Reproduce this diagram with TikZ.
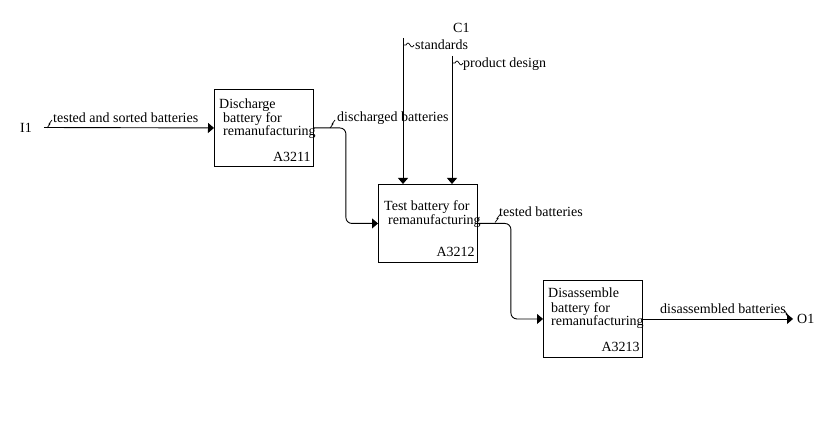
\documentclass[tikz,border=0pt]{standalone}
\usepackage{fontspec}
\setmainfont{Liberation Serif}
\usetikzlibrary{positioning,arrows.meta}

\begin{document}
\begin{tikzpicture}[x=1pt,y=-1pt,
    font=\fontsize{14}{14}\selectfont,
    func/.style={draw,line width=0.9pt,minimum width=99pt,minimum height=77pt,anchor=north west,inner sep=0},
    txt/.style={anchor=base west,inner sep=0},
    fid/.style={anchor=base east,inner sep=0},
    flow/.style={line width=0.9pt,-{Triangle[length=6pt,width=10pt]}},
    bolt/.pic={\draw[line width=0.7pt] (0,0) -- (3,-4) -- (2,-4) -- (5,-8);},
    tilde/.pic={\draw[line width=0.7pt] (0,0) -- (3,0) sin (5,-2) cos (7,0) sin (9,2) cos (11,0);}
]
\useasboundingbox[fill=white] (0,0) rectangle (818,427);

% activities
\node[func] (a3211) at (214,89) {};
\node[func] (a3212) at (378,184) [minimum height=78pt] {};
\node[func] (a3213) at (543,280) {};

\node[txt] at ([shift={(5,20)}]a3211.north west) {Discharge};
\node[txt] at ([shift={(9,33.5)}]a3211.north west) {battery for};
\node[txt] at ([shift={(9,47)}]a3211.north west) {remanufacturing};
\node[fid] at ([shift={(-3,-5)}]a3211.south east) {A3211};

\node[txt] at ([shift={(6,27)}]a3212.north west) {Test battery for};
\node[txt] at ([shift={(10,41)}]a3212.north west) {remanufacturing};
\node[fid] at ([shift={(-3,-6)}]a3212.south east) {A3212};

\node[txt] at ([shift={(5,18)}]a3213.north west) {Disassemble};
\node[txt] at ([shift={(8,32)}]a3213.north west) {battery for};
\node[txt] at ([shift={(8,45.5)}]a3213.north west) {remanufacturing};
\node[fid] at ([shift={(-3,-6)}]a3213.south east) {A3213};

% boundary
\node[txt] (i1) at (20,133) {I1};
\node[txt] (o1) at (797,323) {O1};
\node[txt] (c1) at (453,33) {C1};
\coordinate (in) at (44,127.5);
\coordinate (std) at (403,38);
\coordinate (pd) at (452,56);

% arrows
\draw[flow] (in) -- (a3211.west);
\draw[flow,rounded corners=6pt] (a3211.east) -- ++(32,0) |- (a3212.west);
\draw[flow,rounded corners=6pt] (a3212.east) -- ++(33,0) |- (a3213.west);
\draw[flow] (a3213.east) -- ([xshift=-4pt]o1.west |- a3213.east);
\draw[flow] (std) -- (std |- a3212.north);
\draw[flow] (pd) -- (pd |- a3212.north);

% arrow labels
\node[txt] (l1) at (53,123) {tested and sorted batteries};
\node[txt] (l2) at (337,122) {discharged batteries};
\node[txt] (l3) at (415,50) {standards};
\node[txt] (l4) at (463,68) {product design};
\node[txt] (l5) at (499,217) {tested batteries};
\node[txt] (l6) at (660,313) {disassembled batteries};

\pic at (47,128) {bolt};
\pic at (330,128) {bolt};
\pic at (495,222.5) {bolt};
\pic[xscale=-1] at (789,318) {bolt};
\pic at (403,45) {tilde};
\pic at (452,63) {tilde};

\end{tikzpicture}
\end{document}
